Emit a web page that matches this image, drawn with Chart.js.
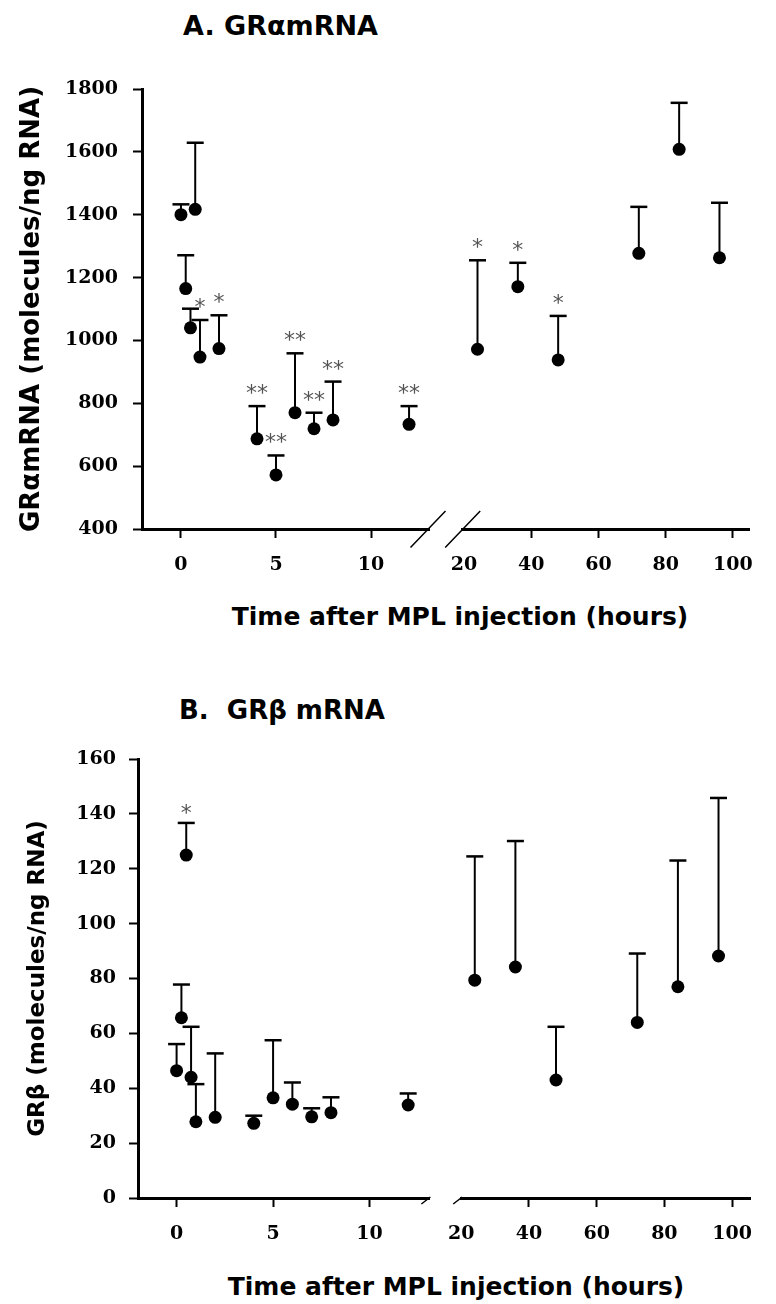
<!DOCTYPE html>
<html><head><meta charset="utf-8">
<script src="https://cdn.jsdelivr.net/npm/chart.js@4.4.1/dist/chart.umd.min.js"></script>
<style>
html,body{margin:0;padding:0;background:#fff;}
body{width:776px;height:1304px;position:relative;overflow:hidden;}
.panel{position:absolute;left:0;width:776px;height:600px;}
.lbl{position:absolute;font-family:"DejaVu Sans",sans-serif;font-weight:bold;line-height:1;white-space:pre;color:#000;}
</style></head><body>
<div class="lbl" style="left:183px;top:12px;font-size:27px;">A. GRαmRNA</div>
<div class="panel" style="top:0px;"><canvas id="cA" width="776" height="600"></canvas></div>
<div class="lbl" style="left:460px;top:604px;font-size:25px;transform:translateX(-50%);">Time after MPL injection (hours)</div>
<div class="lbl" style="left:179px;top:697px;font-size:26px;">B.  GRβ mRNA</div>
<div class="panel" style="top:650px;"><canvas id="cB" width="776" height="600"></canvas></div>
<div class="lbl" style="left:456px;top:1274px;font-size:25px;transform:translateX(-50%);">Time after MPL injection (hours)</div>
<script>
// ---- data ----
const hours = [0, 0.25, 0.5, 0.75, 1, 2, 4, 5, 6, 7, 8, 12, 24, 36, 48, 72, 84, 96];

const alphaMean  = [1400, 1165, 1040, 1417, 947, 974, 687, 572, 770, 719, 747, 733, 972, 1171, 938, 1277, 1608, 1263];
const alphaUpper = [1433, 1271, 1101, 1629, 1065, 1080, 791, 634, 959, 770, 869, 791, 1255, 1247, 1078, 1425, 1756, 1438];
const alphaSig   = ['', '', '', '', '*', '*', '**', '**', '**', '**', '**', '**', '*', '*', '*', '', '', ''];

const betaMean  = [46.4, 65.7, 125, 44, 27.8, 29.4, 27.2, 36.5, 34.2, 29.6, 31.1, 33.9, 79.4, 84.2, 43, 64, 77, 88.2];
const betaUpper = [56.1, 77.8, 136.7, 62.4, 41.5, 52.7, 30, 57.5, 42.1, 32.7, 36.7, 38.1, 124.5, 130.1, 62.4, 89.1, 123, 145.8];
const betaSig   = ['', '', '*', '', '', '', '', '', '', '', '', '', '', '', '', '', '', ''];

const xTicksEarly = [0, 5, 10];
const xTicksLate  = [20, 40, 60, 80, 100];
const yTicksA = [400, 600, 800, 1000, 1200, 1400, 1600, 1800];
const yTicksB = [0, 20, 40, 60, 80, 100, 120, 140, 160];

const yTitleA = 'GRαmRNA (molecules/ng RNA)';
const yTitleB = 'GRβ (molecules/ng RNA)';

// ---- plugins ----
const errPlugin = {
  id: 'errBars',
  beforeDatasetsDraw(chart) {
    const ctx = chart.ctx, ys = chart.scales.y;
    ctx.save();
    ctx.strokeStyle = '#000';
    chart.data.datasets.forEach((ds, i) => {
      const meta = chart.getDatasetMeta(i);
      meta.data.forEach((pt, j) => {
        const top = ys.getPixelForValue(ds.data[j].upper);
        ctx.lineWidth = 2;
        ctx.beginPath(); ctx.moveTo(pt.x, pt.y); ctx.lineTo(pt.x, top); ctx.stroke();
        ctx.lineWidth = 2.5;
        ctx.beginPath(); ctx.moveTo(pt.x - 8.5, top); ctx.lineTo(pt.x + 8.5, top); ctx.stroke();
      });
    });
    ctx.restore();
  },
  afterDatasetsDraw(chart, args, opts) {
    const ctx = chart.ctx, ys = chart.scales.y;
    ctx.save();
    ctx.font = '22px "DejaVu Sans"';
    ctx.fillStyle = '#555';
    ctx.textAlign = 'center';
    ctx.textBaseline = 'alphabetic';
    chart.data.datasets.forEach((ds, i) => {
      const meta = chart.getDatasetMeta(i);
      meta.data.forEach((pt, j) => {
        const s = ds.data[j].sig;
        if (!s) return;
        const top = ys.getPixelForValue(ds.data[j].upper);
        const m = ctx.measureText(s);
        const cy = top - (opts.gap || 17);
        ctx.fillText(s, pt.x, cy + (m.actualBoundingBoxAscent - m.actualBoundingBoxDescent) / 2);
      });
    });
    ctx.restore();
  }
};

const breakPlugin = {
  id: 'axisBreak',
  afterDraw(chart, args, opts) {
    const ctx = chart.ctx, a = chart.scales.x1, b = chart.scales.x2;
    const y = a.top;
    ctx.save();
    ctx.strokeStyle = '#000';
    ctx.lineWidth = 1.5;
    ctx.beginPath();
    if (opts.style === 'slash') {
      [a.right - 1, b.left].forEach(cx => { ctx.moveTo(cx - 17.5, y + 18.5); ctx.lineTo(cx + 17.5, y - 18); });
    } else {
      [a.right, b.left].forEach(cx => { ctx.moveTo(cx - 8, y + 6); ctx.lineTo(cx + 1, y - 1); });
    }
    ctx.stroke();
    ctx.restore();
  }
};

// ---- builders ----
function makeDatasets(mean, upper, sig) {
  const pts = hours.map((h, i) => ({ x: h, y: mean[i], upper: upper[i], sig: sig[i] }));
  const style = { pointRadius: 6.5, pointHoverRadius: 6.5, pointBackgroundColor: '#000', pointBorderColor: '#000', pointBorderWidth: 0, showLine: false };
  return [
    Object.assign({ data: pts.filter(p => p.x < 20), xAxisID: 'x1', yAxisID: 'y' }, style),
    Object.assign({ data: pts.filter(p => p.x >= 20), xAxisID: 'x2', yAxisID: 'y' }, style)
  ];
}

function axisBase() {
  return {
    type: 'linear',
    grid: { drawOnChartArea: false, drawTicks: true, tickLength: 9, tickWidth: 2,
            tickColor: c => (c.tick && c.tick.value === 20 && c.scale.id === 'x2') ? 'rgba(0,0,0,0)' : '#000', color: '#000' },
    border: { display: true, color: '#000', width: 3 },
    ticks: { font: { family: 'DejaVu Serif', weight: 'bold', size: 19 }, color: '#000', padding: 15.6,
             autoSkip: false, maxRotation: 0, minRotation: 0, callback: v => String(v) }
  };
}

function makeChart(id, cfg) {
  const y = axisBase();
  Object.assign(y, {
    position: 'left', min: cfg.yMin, max: cfg.yMax,
    afterBuildTicks: s => { s.ticks = cfg.yTicks.map(v => ({ value: v })); },
    afterFit: s => { s.width = cfg.yWidth; },
    title: { display: true, text: cfg.yTitle, color: '#000',
             font: { family: 'DejaVu Sans', weight: 'bold', size: cfg.yTitleSize }, padding: { top: cfg.yTitlePad, bottom: 0 } }
  });
  y.ticks.padding = cfg.yTickPad;
  const x1 = axisBase();
  Object.assign(x1, {
    position: 'bottom', stack: 'x', stackWeight: cfg.w1, weight: 1, min: cfg.x1Min, max: cfg.x1Max,
    afterBuildTicks: s => { s.ticks = xTicksEarly.map(v => ({ value: v })); },
    afterFit: s => { s.height = cfg.xHeight; }
  });
  const x2 = axisBase();
  Object.assign(x2, {
    position: 'bottom', stack: 'x', stackWeight: cfg.w2, weight: 3, min: cfg.x2Min, max: cfg.x2Max,
    afterBuildTicks: s => { s.ticks = xTicksLate.map(v => ({ value: v })); },
    afterFit: s => { s.height = cfg.xHeight; }
  });
  const xg = { type: 'linear', display: false, position: 'bottom', stack: 'x', stackWeight: cfg.wg, weight: 2, min: 0, max: 1 };

  return new Chart(document.getElementById(id), {
    type: 'scatter',
    data: { datasets: makeDatasets(cfg.mean, cfg.upper, cfg.sig) },
    options: {
      responsive: false, animation: false, events: [],
      layout: { padding: { left: 0, right: 3, top: cfg.padTop, bottom: 0 } },
      plugins: { legend: { display: false }, tooltip: { enabled: false },
                 axisBreak: { style: cfg.breakStyle }, errBars: { gap: cfg.starGap } },
      scales: { y: y, x1: x1, xg: xg, x2: x2 }
    },
    plugins: [errPlugin, breakPlugin]
  });
}

makeChart('cA', {
  mean: alphaMean, upper: alphaUpper, sig: alphaSig,
  yMin: 400, yMax: 1800, yTicks: yTicksA, yTitle: yTitleA, yTitleSize: 26, yTitlePad: 17,
  yWidth: 142, yTickPad: 15, padTop: 89, xHeight: 71,
  w1: 298, wg: 35, w2: 298, x1Min: -2.05, x1Max: 13.05, x2Min: 19.6, x2Max: 105,
  breakStyle: 'slash', starGap: 17
});

makeChart('cB', {
  mean: betaMean, upper: betaUpper, sig: betaSig,
  yMin: 0, yMax: 160, yTicks: yTicksB, yTitle: yTitleB, yTitleSize: 23, yTitlePad: 24,
  yWidth: 138, yTickPad: 13, padTop: 109, xHeight: 52,
  w1: 302, wg: 33, w2: 300, x1Min: -2, x1Max: 13.1, x2Min: 20, x2Max: 105.5,
  breakStyle: 'hook', starGap: 14
});
</script>
</body></html>
